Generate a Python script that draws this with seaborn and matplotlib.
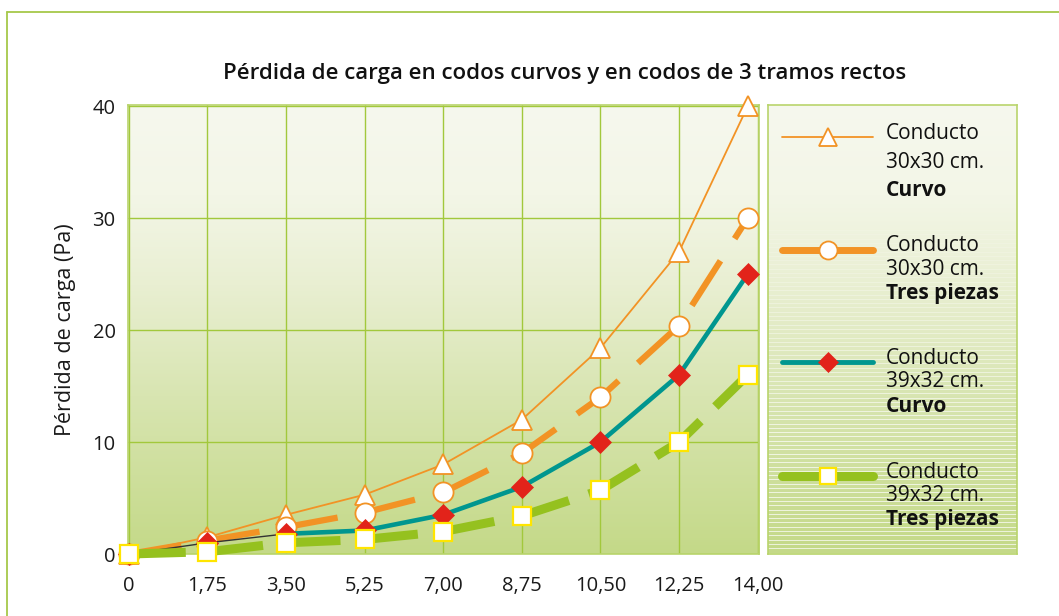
import numpy as np
import pandas as pd
import matplotlib
matplotlib.use("Agg")
import matplotlib.pyplot as plt
from matplotlib.colors import LinearSegmentedColormap
from matplotlib.lines import Line2D
import seaborn as sns

# Caudal (x axis) and pressure loss for each elbow type
caudal_ticks = [0, 1.75, 3.50, 5.25, 7.00, 8.75, 10.50, 12.25, 14.00]
x_labels = ["0", "1,75", "3,50", "5,25", "7,00", "8,75", "10,50", "12,25", "14,00"]
y_ticks = [0, 10, 20, 30, 40]

caudal = [0, 1.75, 3.50, 5.25, 7.00, 8.75, 10.50, 12.25, 13.78]
perdida_30_curvo = [0, 1.5, 3.5, 5.3, 8.0, 12.0, 18.4, 27.0, 40.0]
perdida_30_tres = [0, 1.2, 2.4, 3.7, 5.5, 9.0, 14.0, 20.4, 30.0]
perdida_39_curvo = [0, 1.0, 1.8, 2.1, 3.5, 6.0, 10.0, 16.0, 25.0]
perdida_39_tres = [0, 0.2, 1.0, 1.3, 2.0, 3.4, 5.7, 10.0, 16.0]

series_names = [
    ("Conducto", "30x30 cm.", "Curvo"),
    ("Conducto", "30x30 cm.", "Tres piezas"),
    ("Conducto", "39x32 cm.", "Curvo"),
    ("Conducto", "39x32 cm.", "Tres piezas"),
]

ORANGE = "#f29325"
TEAL = "#00968f"
RED = "#e2231a"
GREEN = "#95c11f"
YELLOW = "#ffe500"
GRID = "#a2c83c"
FRAME = "#a6c84a"

sns.set_style("white")
plt.rcParams["font.family"] = ["Open Sans", "DejaVu Sans"]

W, H = 1059, 616
fig = plt.figure(figsize=(W / 100, H / 100), dpi=100)


def fig_rect(x0, y0, x1, y1):
    return [x0 / W, 1 - y1 / H, (x1 - x0) / W, (y1 - y0) / H]


# outer frame (left and top edges)
fig.add_artist(Line2D([7 / W, 7 / W], [0, 1 - 11.5 / H], color=FRAME, lw=1.3,
                      transform=fig.transFigure))
fig.add_artist(Line2D([7 / W, 1], [1 - 11.5 / H, 1 - 11.5 / H], color=FRAME, lw=1.3,
                      transform=fig.transFigure))

bg_cmap = LinearSegmentedColormap.from_list(
    "bg", [(0.0, "#c4d988"), (0.35, "#d8e5b1"), (0.6, "#e9efd2"),
           (0.8, "#f3f6e7"), (1.0, "#f6f8ee")])
grad = np.linspace(0, 1, 256).reshape(-1, 1)

ax = fig.add_axes(fig_rect(128, 105, 759, 554))
ax.imshow(grad, cmap=bg_cmap, origin="lower", aspect="auto",
          extent=[0, 1, 0, 1], transform=ax.transAxes, zorder=0)

df = pd.DataFrame({
    "caudal": caudal,
    "c30_curvo": perdida_30_curvo,
    "c30_tres": perdida_30_tres,
    "c39_curvo": perdida_39_curvo,
    "c39_tres": perdida_39_tres,
})

common = dict(ax=ax, x="caudal", clip_on=False, estimator=None, sort=False)

# 30x30 curvo: thin orange line, hollow triangles
sns.lineplot(data=df, y="c30_curvo", color=ORANGE, lw=1.3, marker="^",
             markersize=14, markerfacecolor="white", markeredgecolor=ORANGE,
             markeredgewidth=1.3, zorder=3, **common)

# 30x30 tres piezas: thick dashed orange, hollow circles
sns.lineplot(data=df, y="c30_tres", color=ORANGE, lw=4.5,
             linestyle=(0, (8.5, 4.2)), marker="o", markersize=14.5,
             markerfacecolor="white", markeredgecolor=ORANGE,
             markeredgewidth=1.3, zorder=4, **common)

# 39x32 curvo: thin dark start, teal afterwards, red diamonds
df_start = df[df["caudal"] <= 3.5]
df_rest = df[df["caudal"] >= 3.5]
sns.lineplot(data=df_start, y="c39_curvo", color="#333333", lw=1.0,
             zorder=5, **common)
sns.lineplot(data=df_rest, y="c39_curvo", color=TEAL, lw=3.3, zorder=5, **common)
sns.lineplot(data=df, y="c39_curvo", color=RED, lw=0, marker="D",
             markersize=11, markeredgecolor=RED, markeredgewidth=0.5,
             zorder=6, **common)

# 39x32 tres piezas: wide dashed green, hollow yellow-edged squares
sns.lineplot(data=df, y="c39_tres", color=GREEN, lw=6.5,
             linestyle=(0, (6.3, 2.3)), marker="s", markersize=13.5,
             markerfacecolor="white", markeredgecolor=YELLOW,
             markeredgewidth=1.6, zorder=7, **common)

ax.set_xlim(-0.02, 14.03)
ax.set_ylim(0, 40.1)
ax.set_xticks(caudal_ticks)
ax.set_xticklabels(x_labels)
ax.set_yticks(y_ticks)
ax.tick_params(axis="both", length=0, labelsize=14.5, colors="#1a1a1a")
ax.tick_params(axis="x", pad=16)
ax.tick_params(axis="y", pad=9)
ax.grid(True, color=GRID, lw=1.0)
ax.set_axisbelow(True)
for sp in ax.spines.values():
    sp.set_color("#b9d46c")
    sp.set_linewidth(1.2)
ax.set_xlabel("")
ax.set_ylabel("Pérdida de carga (Pa)", fontsize=15.5, color="#1a1a1a", labelpad=12)
ax.legend_ = None

fig.text(565 / W, 1 - 74 / H,
         "Pérdida de carga en codos curvos y en codos de 3 tramos rectos",
         ha="center", va="center", fontsize=16, fontweight="semibold",
         color="#111111")

# legend panel
lax = fig.add_axes(fig_rect(768, 105, 1017, 554))
lax.set_xlim(768, 1017)
lax.set_ylim(554, 105)
lax.imshow(grad, cmap=bg_cmap, origin="lower", aspect="auto",
           extent=[0, 1, 0, 1], transform=lax.transAxes, zorder=0)
for yy in np.arange(230, 554, 4.3):
    a = min(0.7, 0.12 + (yy - 230) / 360)
    lax.plot([768, 1017], [yy, yy], color="white", lw=0.7, alpha=a, zorder=1)
lax.set_xticks([])
lax.set_yticks([])
for sp in lax.spines.values():
    sp.set_color("#b9d46c")
    sp.set_linewidth(1.2)

legend_styles = [
    dict(color=ORANGE, lw=1.3, marker="^", markersize=13, markerfacecolor="white",
         markeredgecolor=ORANGE, markeredgewidth=1.3),
    dict(color=ORANGE, lw=5, marker="o", markersize=13, markerfacecolor="white",
         markeredgecolor=ORANGE, markeredgewidth=1.3),
    dict(color=TEAL, lw=3.5, marker="D", markersize=10, markerfacecolor=RED,
         markeredgecolor=RED, markeredgewidth=0.5),
    dict(color=GREEN, lw=6.5, marker="s", markersize=12, markerfacecolor="white",
         markeredgecolor=YELLOW, markeredgewidth=1.6),
]
line_y = [137, 250, 362, 476]
text_y = [(133, 162, 190), (245, 269, 293), (358, 381, 406), (472, 495, 519)]
for style, ly, ty, names in zip(legend_styles, line_y, text_y, series_names):
    lax.plot([782, 873], [ly, ly], zorder=3, **{k: v for k, v in style.items()
                                                 if not k.startswith("marker")})
    lax.plot([828], [ly], zorder=4, lw=0, **{k: v for k, v in style.items()
                                              if k.startswith("marker")})
    lax.text(886, ty[0], names[0], fontsize=15, va="center", ha="left", color="#111111")
    lax.text(886, ty[1], names[1], fontsize=15, va="center", ha="left", color="#111111")
    lax.text(886, ty[2], names[2], fontsize=15, va="center", ha="left",
             fontweight="bold", color="#111111")

fig.savefig("out.png", dpi=100, facecolor="white")
